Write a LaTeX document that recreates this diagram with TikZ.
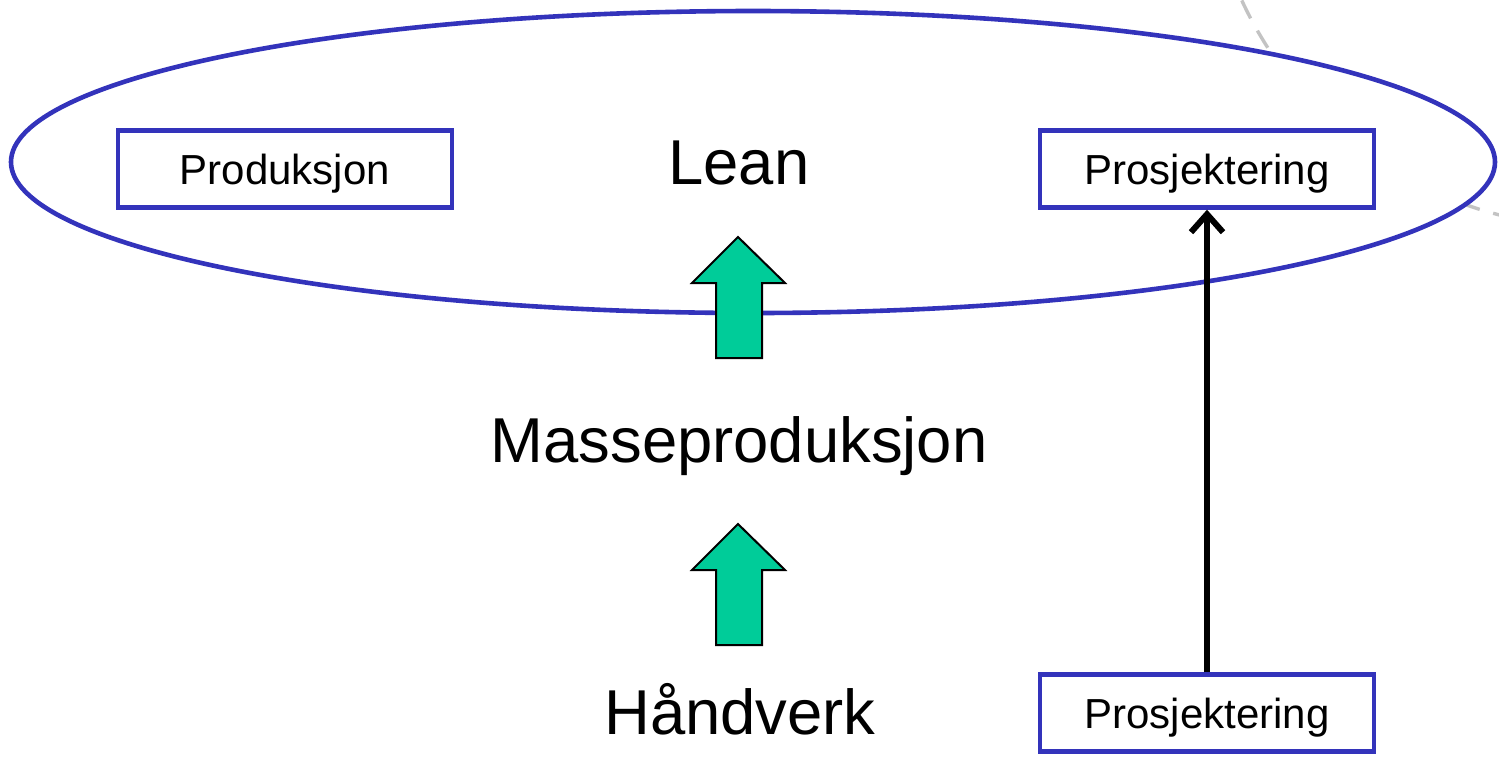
\documentclass[tikz,border=0pt]{standalone}
\usepackage{fontspec}
\setmainfont{Liberation Sans}
\usetikzlibrary{arrows.meta}
\definecolor{ringblue}{RGB}{51,51,187}
\definecolor{upgreen}{RGB}{0,204,153}
\definecolor{dashgray}{RGB}{195,195,195}
\tikzset{
  box/.style={draw=ringblue, line width=2.2pt, fill=white, minimum width=167pt, minimum height=38.5pt, inner sep=0pt, text height=15pt, text depth=0pt, font=\fontsize{21}{25}\selectfont},
  bigtext/.style={inner sep=0pt, anchor=base, font=\fontsize{31.7}{36}\selectfont},
  fatarrow/.style={fill=upgreen, draw=black, line width=1pt, line join=miter},
  linkarrow/.style={line width=3.2pt, -{Straight Barb[length=9pt, width=16pt, line width=3pt]}}
}
\begin{document}
\begin{tikzpicture}[x=0.5pt, y=-0.5pt]
\useasboundingbox (0,0) rectangle (1499,757);
\begin{scope}
\clip (0,0) rectangle (1499,757);
\draw[dashgray, line width=1.7pt, dash pattern=on 10pt off 7pt] (1596,-163) circle [radius=195pt];
\end{scope}
\draw[ringblue, line width=2.3pt, fill=white] (753,162) ellipse [x radius=371pt, y radius=75.5pt];
\node[box] (prod) at (285,169) {Produksjon};
\node[box] (prosjtop) at (1207,169) {Prosjektering};
\node[box] (prosjbot) at (1207,713) {Prosjektering};
\node[bigtext] (lean) at (739,184) {Lean};
\node[bigtext] (masse) at (739,462) {Masseproduksjon};
\node[bigtext] (hand) at (740,734) {Håndverk};
\draw[fatarrow] (716,358) -- (716,283) -- (692,283) -- (738,237) -- (785,283) -- (762,283) -- (762,358) -- cycle;
\draw[fatarrow] (716,645) -- (716,570) -- (692,570) -- (738,524) -- (785,570) -- (762,570) -- (762,645) -- cycle;
\draw[linkarrow] (prosjbot.north) -- (prosjtop.south);
\end{tikzpicture}
\end{document}
